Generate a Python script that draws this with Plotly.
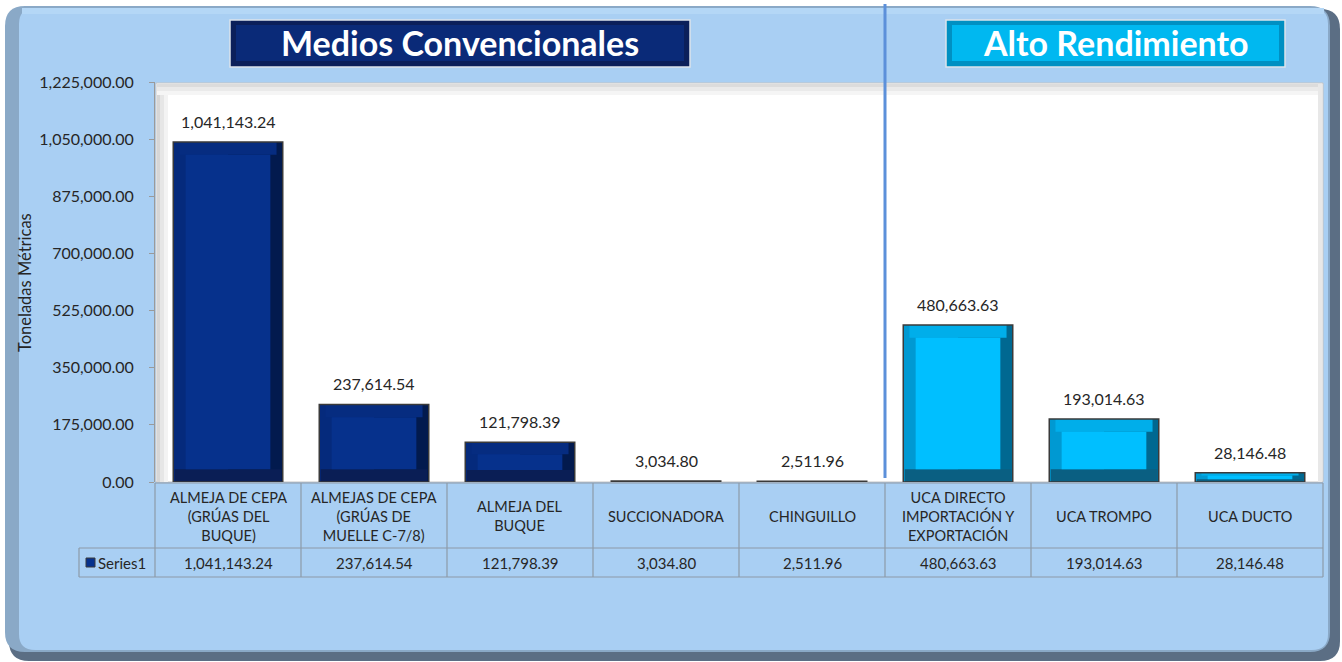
import plotly.graph_objects as go

# ---------------- data ----------------
categories = [
    "ALMEJA DE CEPA (GRÚAS DEL BUQUE)",
    "ALMEJAS DE CEPA (GRÚAS DE MUELLE C-7/8)",
    "ALMEJA DEL BUQUE",
    "SUCCIONADORA",
    "CHINGUILLO",
    "UCA DIRECTO IMPORTACIÓN Y EXPORTACIÓN",
    "UCA TROMPO",
    "UCA DUCTO",
]
category_labels = [
    "ALMEJA DE CEPA<br>(GRÚAS DEL<br>BUQUE)",
    "ALMEJAS DE CEPA<br>(GRÚAS DE<br>MUELLE C-7/8)",
    "ALMEJA DEL<br>BUQUE",
    "SUCCIONADORA",
    "CHINGUILLO",
    "UCA DIRECTO<br>IMPORTACIÓN Y<br>EXPORTACIÓN",
    "UCA TROMPO",
    "UCA DUCTO",
]
values = [1041143.24, 237614.54, 121798.39, 3034.80, 2511.96, 480663.63, 193014.63, 28146.48]
groups = ["conv", "conv", "conv", "conv", "conv", "alto", "alto", "alto"]
group_titles = {"conv": "Medios Convencionales", "alto": "Alto Rendimiento"}
series_name = "Series1"
y_title = "Toneladas Métricas"
y_max = 1225000
y_step = 175000

# ---------------- styles ----------------
PAL = {
    "conv": dict(face="#06318C", left="#052A7C", right="#021A4E", bottom="#0A1E55", top="#062C80"),
    "alto": dict(face="#00BFFF", left="#0099D2", right="#006891", bottom="#0A5F82", top="#00AEEA"),
}
FONT = "Lato"
TXT = "#262626"
GRID = "#8D9AA8"

# plot area in pixels
X0, X1, Y0, Y1 = 155, 1323, 82, 482
W, H = X1 - X0, Y1 - Y0


def px(x):
    return (x - X0) / W


def py(y):
    return (Y1 - y) / H


def rrect_path(x0, y0, x1, y1, r):
    def P(x, y):
        return f"{px(x):.5f},{py(y):.5f}"
    return (f"M {P(x0 + r, y0)} L {P(x1 - r, y0)} Q {P(x1, y0)} {P(x1, y0 + r)} "
            f"L {P(x1, y1 - r)} Q {P(x1, y1)} {P(x1 - r, y1)} L {P(x0 + r, y1)} "
            f"Q {P(x0, y1)} {P(x0, y1 - r)} L {P(x0, y0 + r)} Q {P(x0, y0)} {P(x0 + r, y0)} Z")


BAR_W = 0.75
BEV_X = 0.085
BEV_Y = 39000
bev = [min(BEV_Y, v * 0.3) for v in values]

col = lambda key: [PAL[g][key] for g in groups]

fig = go.Figure()
common = dict(x=categories, hoverinfo="skip", showlegend=False)
fig.add_trace(go.Bar(y=values, width=BAR_W, offset=-BAR_W / 2, marker=dict(color=col("right"), line_width=0), **common))
fig.add_trace(go.Bar(y=values, width=BAR_W / 2, offset=-BAR_W / 2, marker=dict(color=col("left"), line_width=0), **common))
fig.add_trace(go.Bar(y=bev, width=BAR_W - 0.02, offset=-BAR_W / 2 + 0.01, marker=dict(color=col("bottom"), line_width=0), **common))
fig.add_trace(go.Bar(y=bev, base=[v - b for v, b in zip(values, bev)], width=BAR_W - BEV_X, offset=-BAR_W / 2 + BEV_X / 2,
                     marker=dict(color=col("top"), line_width=0), **common))
fig.add_trace(go.Bar(y=[v - 2 * b for v, b in zip(values, bev)], base=bev, width=BAR_W - 2 * BEV_X,
                     offset=-BAR_W / 2 + BEV_X, marker=dict(color=col("face"), line_width=0), **common))
fig.add_trace(go.Bar(y=values, width=BAR_W, offset=-BAR_W / 2,
                     marker=dict(color="rgba(0,0,0,0)", line=dict(color="#3A3A3A", width=1.5)),
                     name=series_name, **common))

shapes = []
annotations = []
# panel shadow, rim and face
shapes.append(dict(type="path", xref="paper", yref="paper", path=rrect_path(9, 9, 1340, 661, 20),
                   fillcolor="#5B6E84", line_width=0, layer="below"))
shapes.append(dict(type="path", xref="paper", yref="paper", path=rrect_path(5, 6, 1330, 652, 20),
                   fillcolor="#8AA9C7", line_width=0, layer="below"))
shapes.append(dict(type="path", xref="paper", yref="paper", path=rrect_path(19, 8, 1328, 650, 16),
                   fillcolor="#A9CFF3", line_width=0, layer="below"))
shapes.append(dict(type="rect", xref="paper", yref="paper", x0=px(22), x1=px(1324), y0=py(8), y1=py(14),
                   fillcolor="#B4D7F6", line_width=0, layer="below"))
# plot area
shapes.append(dict(type="rect", xref="paper", yref="paper", x0=px(156), x1=px(1323), y0=py(83), y1=py(482),
                   fillcolor="white", line=dict(color="#C4C4C4", width=1), layer="below"))
for (a, b, c) in [(157, 160, "#D6D6D6"), (160, 164, "#E6E6E6"), (164, 168, "#F3F3F3")]:
    shapes.append(dict(type="rect", xref="paper", yref="paper", x0=px(a), x1=px(b), y0=py(84), y1=py(482),
                       fillcolor=c, line_width=0, layer="below"))
for (a, b, c) in [(84, 87, "#DCDCDC"), (87, 91, "#EAEAEA"), (91, 95, "#F5F5F5")]:
    shapes.append(dict(type="rect", xref="paper", yref="paper", x0=px(157), x1=px(1322), y0=py(a), y1=py(b),
                       fillcolor=c, line_width=0, layer="below"))
shapes.append(dict(type="rect", xref="paper", yref="paper", x0=px(1318), x1=px(1322), y0=py(84), y1=py(482),
                   fillcolor="#E8E8E8", line_width=0, layer="below"))

# data labels above bars
for c, v in zip(categories, values):
    annotations.append(dict(xref="x", yref="y", x=c, y=v, text=f"{v:,.2f}", showarrow=False,
                            xanchor="center", yanchor="bottom", yshift=9,
                            font=dict(family=FONT, size=16, color=TXT)))

# header boxes
boxes = {"conv": (230, 20, 690, 67, "#0B1F5A", "#0A2A78"), "alto": (946, 20, 1285, 67, "#0090C2", "#00B8F0")}
for g, (bx0, by0, bx1, by1, c_out, c_in) in boxes.items():
    shapes.append(dict(type="rect", xref="paper", yref="paper", x0=px(bx0), x1=px(bx1), y0=py(by0), y1=py(by1),
                       fillcolor=c_out, line=dict(color="#DCE4EC", width=1.5), layer="above"))
    shapes.append(dict(type="rect", xref="paper", yref="paper", x0=px(bx0 + 6), x1=px(bx1 - 6), y0=py(by0 + 5),
                       y1=py(by1 - 6), fillcolor=c_in, line_width=0, layer="above"))
    annotations.append(dict(xref="paper", yref="paper", x=px((bx0 + bx1) / 2), y=py((by0 + by1) / 2 - 1),
                            text=group_titles[g], showarrow=False, xanchor="center", yanchor="middle",
                            font=dict(family=FONT, size=34, color="white", weight="bold")))

# separator line
shapes.append(dict(type="line", xref="paper", yref="paper", x0=px(885), x1=px(885), y0=py(4), y1=py(478),
                   line=dict(color="#5C90DA", width=3), layer="above"))

# data table grid
line = dict(color=GRID, width=1.2)
shapes.append(dict(type="line", xref="paper", yref="paper", x0=px(155), x1=px(1323), y0=py(483), y1=py(483), line=line))
for yy in (548, 577):
    shapes.append(dict(type="line", xref="paper", yref="paper", x0=px(79), x1=px(1323), y0=py(yy), y1=py(yy), line=line))
for i in range(len(categories) + 1):
    xx = X0 + i * W / len(categories)
    shapes.append(dict(type="line", xref="paper", yref="paper", x0=px(xx), x1=px(xx), y0=py(483), y1=py(577), line=line))
shapes.append(dict(type="line", xref="paper", yref="paper", x0=px(79), x1=px(79), y0=py(548), y1=py(577), line=line))
# legend key
shapes.append(dict(type="rect", xref="paper", yref="paper", x0=px(86), x1=px(95), y0=py(558), y1=py(567),
                   fillcolor=PAL["conv"]["face"], line=dict(color="#3A3A3A", width=1)))
annotations.append(dict(xref="paper", yref="paper", x=px(96), y=py(563), text=series_name, showarrow=False,
                        xanchor="left", yanchor="middle", font=dict(family=FONT, size=15, color=TXT)))

for c, lab, v in zip(categories, category_labels, values):
    annotations.append(dict(xref="x", yref="paper", x=c, y=py(516), text=lab, showarrow=False,
                            xanchor="center", yanchor="middle", align="center",
                            font=dict(family=FONT, size=14.5, color=TXT)))
    annotations.append(dict(xref="x", yref="paper", x=c, y=py(563), text=f"{v:,.2f}", showarrow=False,
                            xanchor="center", yanchor="middle", font=dict(family=FONT, size=15, color=TXT)))

# y title
annotations.append(dict(xref="paper", yref="paper", x=px(25), y=py(283), text=y_title, showarrow=False,
                        textangle=-90, xanchor="center", yanchor="middle",
                        font=dict(family=FONT, size=16.5, color=TXT)))

fig.update_layout(
    width=1342, height=662, autosize=False,
    margin=dict(l=X0, r=1342 - X1, t=Y0, b=662 - Y1, pad=0),
    paper_bgcolor="white", plot_bgcolor="rgba(0,0,0,0)",
    barmode="overlay", bargap=0.25,
    shapes=shapes, annotations=annotations, showlegend=False,
    font=dict(family=FONT, color=TXT),
    xaxis=dict(range=[-0.5, len(categories) - 0.5], showticklabels=False, showgrid=False, zeroline=False,
               showline=False, ticks="", fixedrange=True),
    yaxis=dict(range=[0, y_max], dtick=y_step, tick0=0, tickformat=",.2f", showgrid=False, zeroline=False,
               showline=True, linecolor="#9A9A9A", linewidth=1, ticks="outside", ticklen=5, tickcolor="#9A9A9A",
               ticklabelstandoff=12, tickfont=dict(family=FONT, size=16, color=TXT), fixedrange=True),
)

fig.write_html("out.html", config={"displayModeBar": False},
               post_script="document.body.style.margin='0';document.body.style.overflow='hidden';")
